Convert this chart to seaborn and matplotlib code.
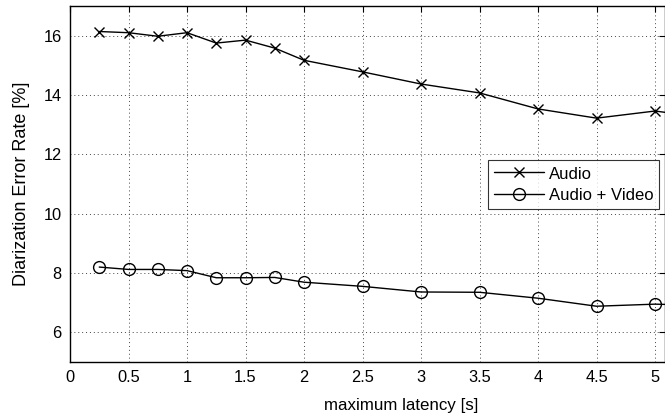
import numpy as np
import pandas as pd
import matplotlib
matplotlib.use('Agg')
import matplotlib.pyplot as plt
import seaborn as sns

# values
latency = [0.25, 0.5, 0.75, 1.0, 1.25, 1.5, 1.75, 2.0, 2.5, 3.0, 3.5, 4.0, 4.5, 5.0, 5.5]
audio = [16.14, 16.1, 15.98, 16.1, 15.75, 15.85, 15.58, 15.17, 14.78, 14.37, 14.07, 13.53, 13.22, 13.46, 13.2]
audio_video = [8.2, 8.12, 8.12, 8.08, 7.84, 7.84, 7.85, 7.69, 7.55, 7.36, 7.35, 7.15, 6.88, 6.95, 6.9]
x_ticks = [0, 0.5, 1, 1.5, 2, 2.5, 3, 3.5, 4, 4.5, 5]
x_tick_labels = ['0', '0.5', '1', '1.5', '2', '2.5', '3', '3.5', '4', '4.5', '5']
y_ticks = [6, 8, 10, 12, 14, 16]

sns.set_style('white')
plt.rcParams['font.family'] = ['Liberation Sans', 'DejaVu Sans']
plt.rcParams['text.color'] = 'black'
plt.rcParams['axes.labelcolor'] = 'black'

fig = plt.figure(figsize=(6.65, 4.17), dpi=100)
ax = fig.add_axes([70 / 665, 55 / 417, 595 / 665, 356 / 417])

# one call per series (seaborn won't mix 'x' and 'o' in a style mapping)
sns.lineplot(x=latency, y=audio, marker='x', color='black', linewidth=1.0,
             markersize=7, markeredgecolor='black', markeredgewidth=1.0,
             label='Audio', ax=ax)
sns.lineplot(x=latency, y=audio_video, marker='o', color='black', linewidth=1.0,
             markersize=8.5, markerfacecolor='none', markeredgecolor='black',
             markeredgewidth=1.0, label='Audio + Video', ax=ax)

ax.set_xlim(0, 5.085)
ax.set_ylim(5, 17)
ax.set_xticks(x_ticks)
ax.set_xticklabels(x_tick_labels)
ax.set_yticks(y_ticks)
ax.grid(True, linestyle=(0, (1, 3)), color='#444444', linewidth=0.7)
ax.tick_params(direction='in', length=4, width=0.8, pad=6, labelsize=11.8,
               top=True, right=True, colors='black')
for s in ax.spines.values():
    s.set_color('black')
    s.set_linewidth(1.0)

# original axes ran past the crop, so the x label sits right of the visible centre
ax.set_xlabel('maximum latency [s]', fontsize=12.2)
ax.xaxis.set_label_coords((401 - 70) / 595, -0.101)
ax.set_ylabel('Diarization Error Rate [%]', fontsize=13, labelpad=10)

leg = ax.legend(loc='upper right', bbox_to_anchor=(0.99, 0.567), borderaxespad=0,
                prop={'size': 12}, frameon=True, fancybox=False, edgecolor='black',
                handlelength=3.0, borderpad=0.35, labelspacing=0.35, handletextpad=0.3,
                handleheight=0.9)
leg.get_frame().set_linewidth(0.8)
for t in leg.get_texts():
    t.set_color('black')

fig.savefig('out.png', dpi=100)
